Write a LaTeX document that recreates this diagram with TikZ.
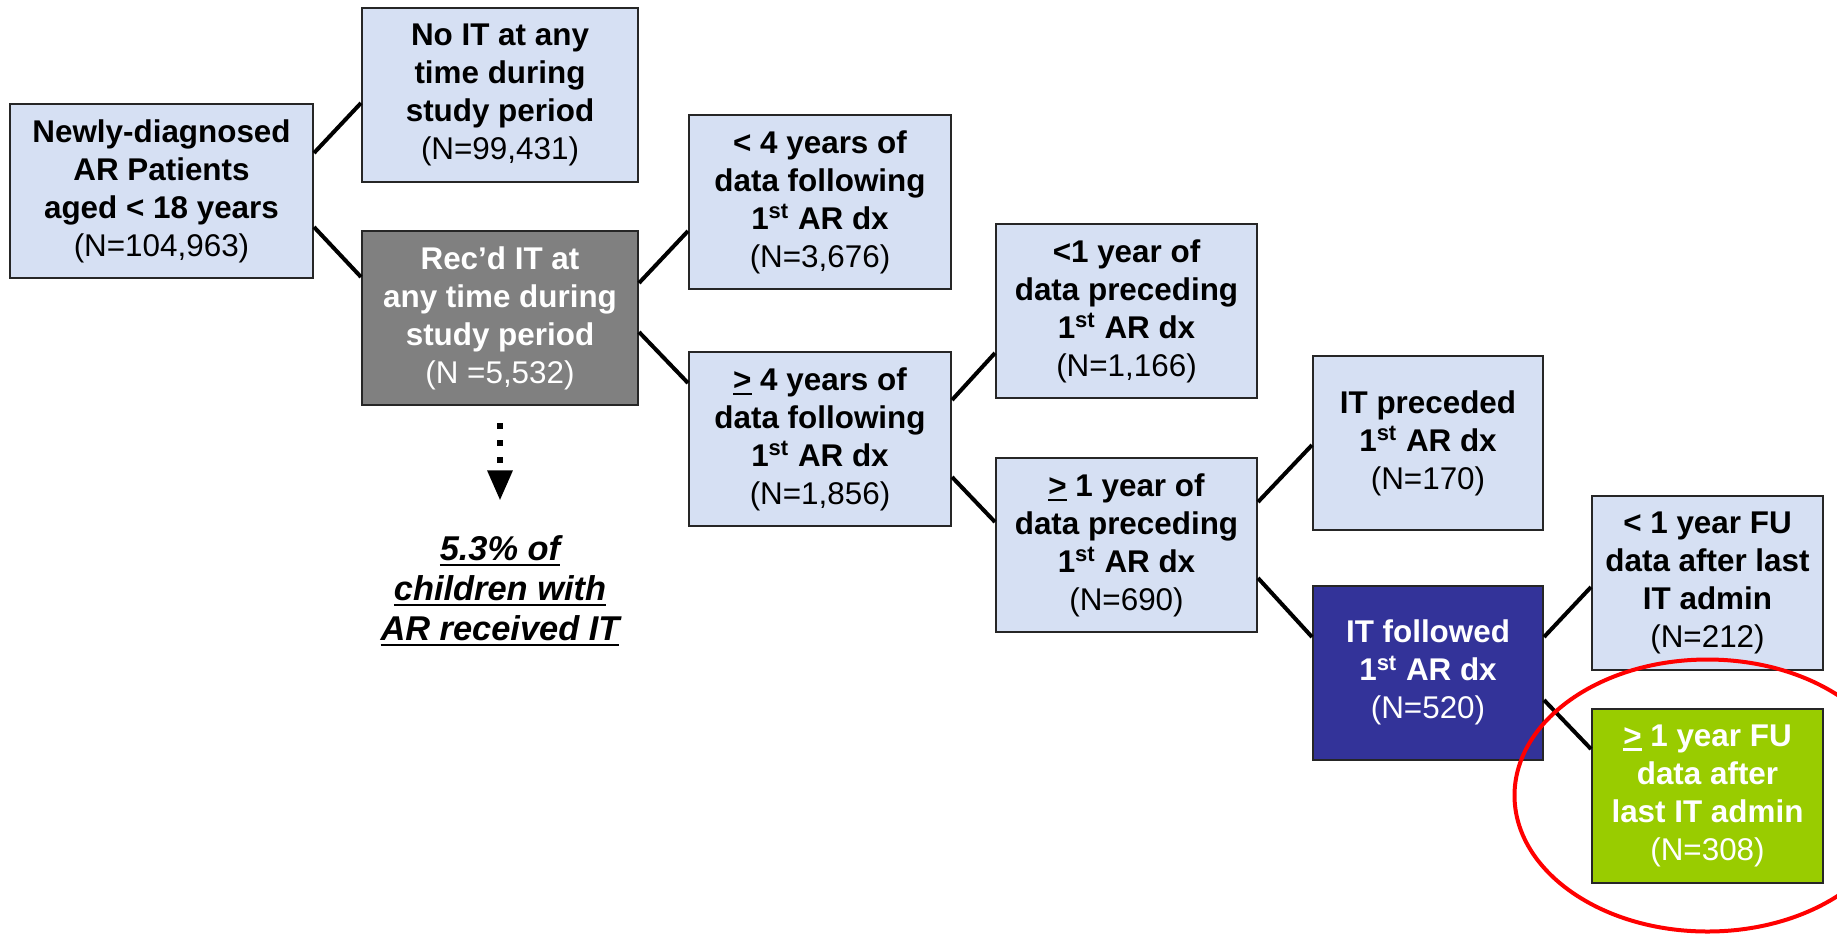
\documentclass[tikz,border=0pt]{standalone}
\usepackage{fontspec}
\setmainfont{Liberation Sans}
\usepackage{xcolor}
\usetikzlibrary{arrows.meta}
\definecolor{boxblue}{RGB}{214,224,243}
\definecolor{boxgray}{RGB}{128,128,128}
\definecolor{boxnavy}{RGB}{51,51,153}
\definecolor{boxgreen}{RGB}{153,204,0}
\newcommand{\ulthick}[1]{\leavevmode\vtop{\hbox{#1}\kern1.2pt\hrule height1.3pt}}
\newcommand{\fst}{1\textsuperscript{st}}

\begin{document}
\begin{tikzpicture}[x=0.5pt, y=-0.5pt,
    flowbox/.style={draw=black!85, line width=1pt, align=center, inner sep=0pt,
      minimum height=87pt, font=\fontsize{15.7}{19}\selectfont\bfseries},
    lightbox/.style={flowbox, fill=boxblue, text=black},
    graybox/.style={flowbox, fill=boxgray, text=white},
    navybox/.style={flowbox, fill=boxnavy, text=white},
    greenbox/.style={flowbox, fill=boxgreen, text=white},
    link/.style={line width=2pt, black}]
    \useasboundingbox (0,0) rectangle (1837,934);

    \node[lightbox, minimum width=151.5pt] (root) at (161.5,191) {Newly-diagnosed\\AR Patients\\aged < 18 years\\\mdseries(N=104,963)};
    \node[lightbox, minimum width=138pt] (noit) at (500,94.5) {No IT at any\\time during\\study period\\\mdseries(N=99,431)};
    \node[graybox, minimum width=138pt] (recd) at (500,318) {Rec’d IT at\\any time during\\study period\\\mdseries(N =5,532)};
    \node[lightbox, minimum width=131pt] (lt4) at (820,202) {< 4 years of\\data following\\\fst{} AR dx\\\mdseries(N=3,676)};
    \node[lightbox, minimum width=131pt] (ge4) at (820,439) {\ulthick{>} 4 years of\\data following\\\fst{} AR dx\\\mdseries(N=1,856)};
    \node[lightbox, minimum width=130.5pt] (lt1) at (1126.5,311) {<1 year of\\data preceding\\\fst{} AR dx\\\mdseries(N=1,166)};
    \node[lightbox, minimum width=130.5pt] (ge1) at (1126.5,545) {\ulthick{>} 1 year of\\data preceding\\\fst{} AR dx\\\mdseries(N=690)};
    \node[lightbox, minimum width=115pt] (itprec) at (1428,443) {IT preceded\\\fst{} AR dx\\\mdseries(N=170)};
    \node[navybox, minimum width=115pt] (itfol) at (1428,672.5) {IT followed\\\fst{} AR dx\\\mdseries(N=520)};
    \node[lightbox, minimum width=115.5pt] (lt1fu) at (1707.5,582.5) {< 1 year FU\\data after last\\IT admin\\\mdseries(N=212)};
    \node[greenbox, minimum width=115.5pt] (ge1fu) at (1707.5,795.5) {\ulthick{>} 1 year FU\\data after\\last IT admin\\\mdseries(N=308)};

    \node[align=center, inner sep=0pt, font=\fontsize{17.2}{20}\selectfont\bfseries\itshape] (pct) at (500,591)
      {\ulthick{5.3\% of}\\\ulthick{children with}\\\ulthick{AR received IT}};

    \draw[link] ([yshift=19pt]root.east) -- ([yshift=-4.25pt]noit.west);
    \draw[link] ([yshift=-18pt]root.east) -- ([yshift=20.5pt]recd.west);
    \draw[link] ([yshift=17.5pt]recd.east) -- ([yshift=-14.5pt]lt4.west);
    \draw[link] ([yshift=-7pt]recd.east) -- ([yshift=28pt]ge4.west);
    \draw[link] ([yshift=19.5pt]ge4.east) -- ([yshift=-21pt]lt1.west);
    \draw[link] ([yshift=-19pt]ge4.east) -- ([yshift=11.5pt]ge1.west);
    \draw[link] ([yshift=21.5pt]ge1.east) -- ([yshift=-1pt]itprec.west);
    \draw[link] ([yshift=-16.5pt]ge1.east) -- ([yshift=17.75pt]itfol.west);
    \draw[link] ([yshift=17.75pt]itfol.east) -- ([yshift=-2.25pt]lt1fu.west);
    \draw[link] ([yshift=-13.75pt]itfol.east) -- ([yshift=23.25pt]ge1fu.west);

    \draw[line width=3pt, dash pattern=on 3pt off 5.5pt, -{Triangle[width=12pt,length=15pt]}]
      ([yshift=-8.5pt]recd.south) -- ([yshift=17.5pt]pct.north);

    \draw[red, line width=2pt] (ge1fu.center) ellipse [x radius=96.5pt, y radius=68pt];
\end{tikzpicture}
\end{document}
